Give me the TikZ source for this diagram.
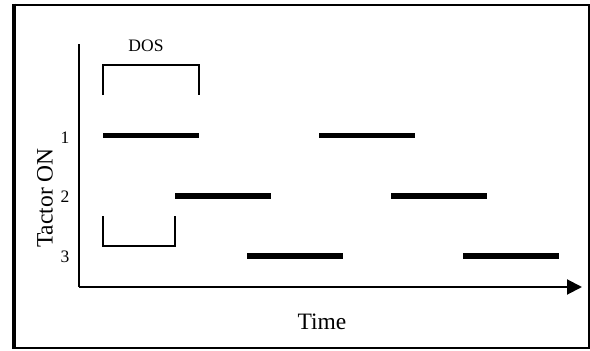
\documentclass[tikz,border=0pt]{standalone}
\usepackage{fontspec}
\setmainfont{Liberation Serif}
\usetikzlibrary{arrows.meta}
\begin{document}
\begin{tikzpicture}[x=1pt,y=-1pt,
  frameline/.style={line width=2.6pt},
  axisline/.style={line width=2pt},
  bracketline/.style={line width=1.6pt},
  onbar/.style={line width=5.5pt},
  small/.style={font=\fontsize{17.5}{20}\selectfont, inner sep=0pt},
  big/.style={font=\fontsize{23.5}{27}\selectfont, inner sep=0pt}]
\useasboundingbox (0,0) rectangle (590,351);
% outer frame
\draw[frameline] (14,4.8) rectangle (588.8,348);
\draw[line width=4pt] (14,3.5) -- (14,349.3);
% axes
\coordinate (ytop) at (79,44);
\coordinate (origin) at (79,287);
\coordinate (xend) at (582,287);
\draw[axisline] (ytop) -- (origin);
\draw[axisline,-{Triangle[length=15pt,width=15pt]}] (origin) -- (xend);
% axis labels
\node[big, rotate=90] (ylab) at (45,198) {Tactor ON};
\node[big] (xlab) at (322,322) {Time};
\node[small] (r1) at (65,137.5) {1};
\node[small] (r2) at (65,196.5) {2};
\node[small] (r3) at (65,256.5) {3};
% DOS bracket
\node[small] (dos) at (146,46) {DOS};
\draw[bracketline] (103,95) -- (103,65) -- (199,65) -- (199,95);
% offset bracket
\draw[bracketline] (103,216) -- (103,246) -- (175,246) -- (175,216);
% tactor on periods
\draw[onbar] (103,135.5) -- (199,135.5);
\draw[onbar] (319,135.5) -- (415,135.5);
\draw[onbar] (175,196) -- (271,196);
\draw[onbar] (391,196) -- (487,196);
\draw[onbar] (247,256) -- (343,256);
\draw[onbar] (463,256) -- (559,256);
\end{tikzpicture}
\end{document}
